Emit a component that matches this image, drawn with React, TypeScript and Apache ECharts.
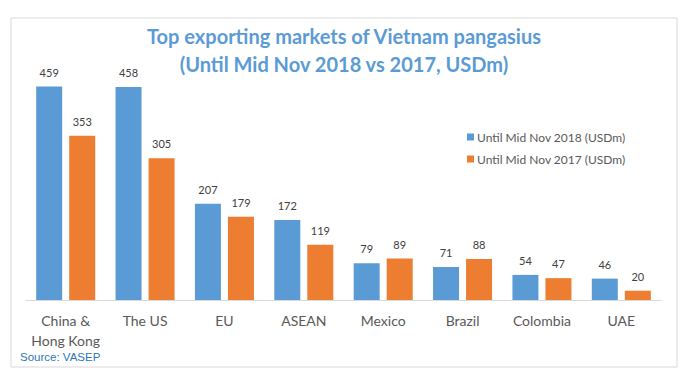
import React, { useEffect, useRef } from "react";
import * as echarts from "echarts";

const categories = ["China &\nHong Kong", "The US", "EU", "ASEAN", "Mexico", "Brazil", "Colombia", "UAE"];
const values2018 = [459, 458, 207, 172, 79, 71, 54, 46];
const values2017 = [353, 305, 179, 119, 89, 88, 47, 20];
const seriesNames = ["Until Mid Nov 2018 (USDm)", "Until Mid Nov 2017 (USDm)"];

export default function App() {
  const ref = useRef<HTMLDivElement>(null);
  useEffect(() => {
    if (!ref.current) return;
    const chart = echarts.init(ref.current, null, { renderer: "svg" });
    const labelStyle = {
      show: true,
      position: "top",
      distance: 9,
      color: "#404040",
      fontSize: 11,
      fontFamily: "Lato",
    };
    chart.setOption({
      animation: false,
      backgroundColor: "#ffffff",
      title: {
        text: "Top exporting markets of Vietnam pangasius\n(Until Mid Nov 2018 vs 2017, USDm)",
        left: "center",
        top: 17,
        textStyle: {
          color: "#5B9BD5",
          fontSize: 20,
          fontWeight: "bold",
          fontFamily: "Lato",
          lineHeight: 28,
        },
      },
      legend: {
        orient: "vertical",
        left: 462,
        top: 126,
        itemWidth: 7,
        itemHeight: 7,
        itemGap: 10,
        icon: "rect",
        textStyle: { color: "#595959", fontSize: 12, fontFamily: "Lato", padding: [0, 0, 0, -2] },
        data: seriesNames,
      },
      graphic: [
        {
          type: "rect",
          shape: { x: 11, y: 18, width: 666, height: 349 },
          style: { fill: "none", stroke: "#d9d9d9", lineWidth: 1 },
          silent: true,
          z: -1,
        },
        {
          type: "text",
          left: 20,
          top: 351,
          style: {
            text: "Source: VASEP",
            fill: "#2E75B6",
            fontSize: 11.5,
            fontFamily: "Liberation Sans",
          },
        },
      ],
      grid: { left: 26, right: 27, top: 67.5, bottom: 85 },
      xAxis: {
        type: "category",
        data: categories,
        axisLine: { show: true, lineStyle: { color: "#d9d9d9" } },
        axisTick: { show: false },
        axisLabel: {
          color: "#595959",
          fontSize: 14,
          fontFamily: "Lato",
          lineHeight: 20,
          margin: 10,
          interval: 0,
        },
      },
      yAxis: {
        type: "value",
        min: 0,
        max: 500,
        show: false,
        splitLine: { show: false },
      },
      series: [
        {
          name: seriesNames[0],
          type: "bar",
          data: values2018,
          barWidth: 26,
          barGap: "27%",
          itemStyle: { color: "#5B9BD5" },
          label: labelStyle,
        },
        {
          name: seriesNames[1],
          type: "bar",
          data: values2017,
          barWidth: 26,
          itemStyle: { color: "#ED7D31" },
          label: labelStyle,
        },
      ],
    });
    return () => chart.dispose();
  }, []);
  return <div ref={ref} style={{ width: 688, height: 385, position: "absolute", left: 0, top: 0 }} />;
}
